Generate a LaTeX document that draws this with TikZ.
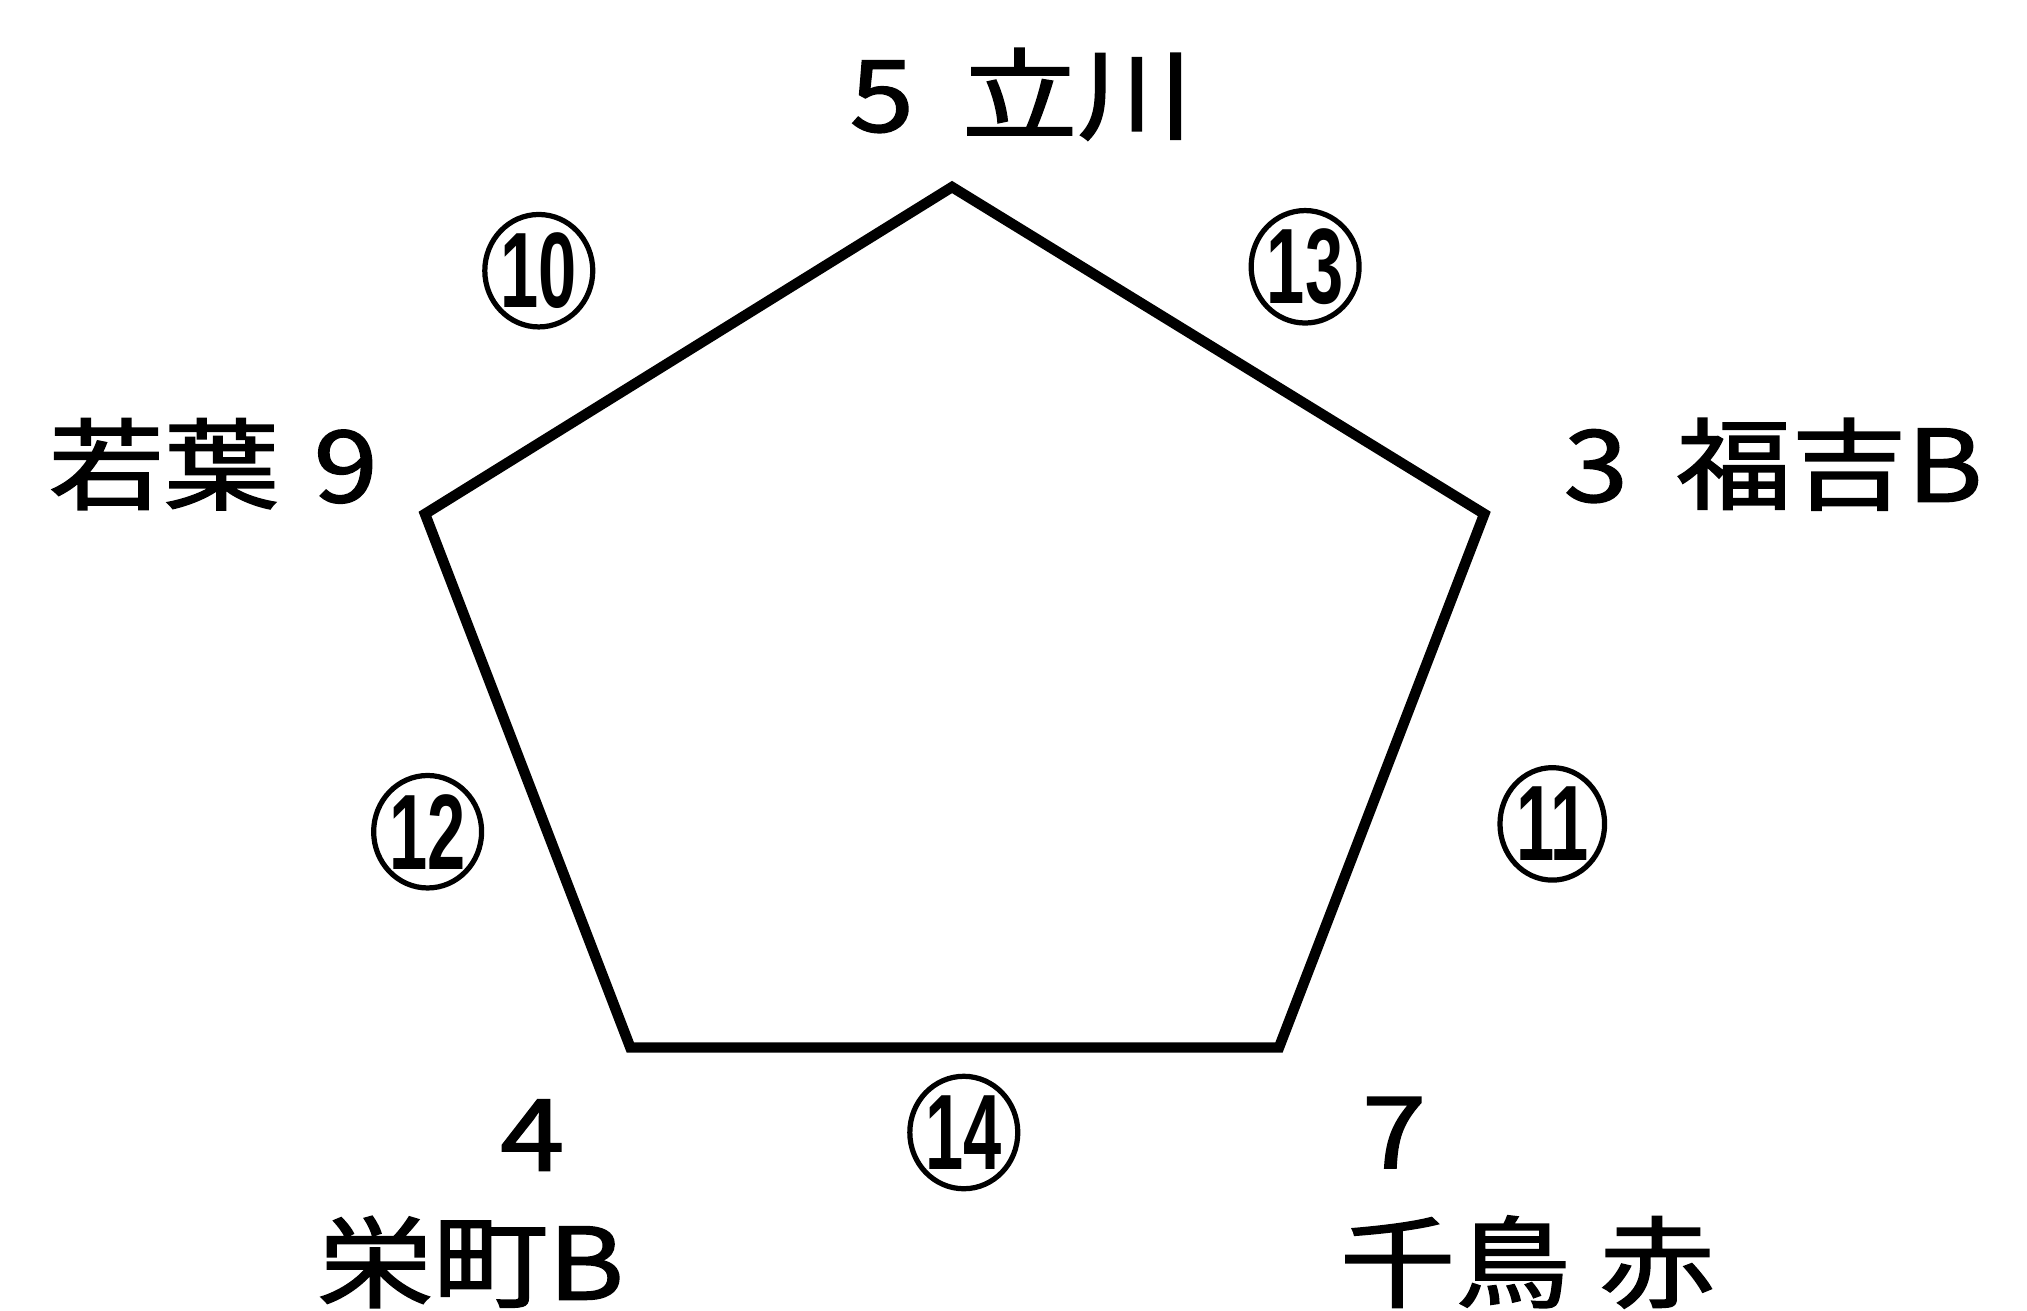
\documentclass[tikz,border=0pt]{standalone}
\usepackage{fontspec}
\usepackage{graphicx}
\setmainfont{Noto Sans CJK JP}
\newfontfamily\gfont{Noto Sans CJK JP}[FakeBold=1.6]
\newfontfamily\dfont{Liberation Sans}
\usetikzlibrary{shapes.geometric}
\tikzset{
  lbl/.style={inner sep=0pt, font=\gfont\fontsize{76}{80}\selectfont},
  circnum/.style={ellipse, draw, line width=4pt, minimum width=80pt, minimum height=86pt, inner sep=0pt, font=\dfont\bfseries\fontsize{82}{84}\selectfont},
  edge/.style={line width=8pt, line join=miter}
}
\newcommand{\cn}[1]{\scalebox{0.64}[1]{#1}}
\newcommand{\wide}[1]{\scalebox{1.16}[1]{#1}}
\begin{document}
\begin{tikzpicture}[x=1pt,y=-1pt]
\useasboundingbox (0,0) rectangle (1550,1002);
\coordinate (T) at (728,143);
\coordinate (R) at (1135,393);
\coordinate (BR) at (978,801);
\coordinate (BL) at (482,801);
\coordinate (L) at (325,393);
\draw[edge] (T) -- (R) -- (BR) -- (BL) -- (L) -- cycle;

\node[lbl] (t5) at (781,72) {\wide{5\hspace{0.42em}立川}};
\node[lbl] (l9) at (163,355) {\wide{若葉\hspace{0.3em}9}};
\node[lbl] (r3) at (1356,355) {\wide{3\hspace{0.42em}福吉B}};
\node[lbl] (n4) at (407,868) {\wide{4}};
\node[lbl] (s4) at (360,965) {\wide{栄町B}};
\node[lbl] (n7) at (1066,866) {\wide{7}};
\node[lbl] (s7) at (1168,965) {\wide{千鳥\hspace{0.25em}赤}};

\node[circnum] (c10) at (412,207) {\cn{10}};
\node[circnum] (c13) at (998,204) {\cn{13}};
\node[circnum] (c12) at (327,636) {\cn{12}};
\node[circnum] (c11) at (1187,630) {\cn{11}};
\node[circnum] (c14) at (737,866) {\cn{14}};
\end{tikzpicture}
\end{document}
